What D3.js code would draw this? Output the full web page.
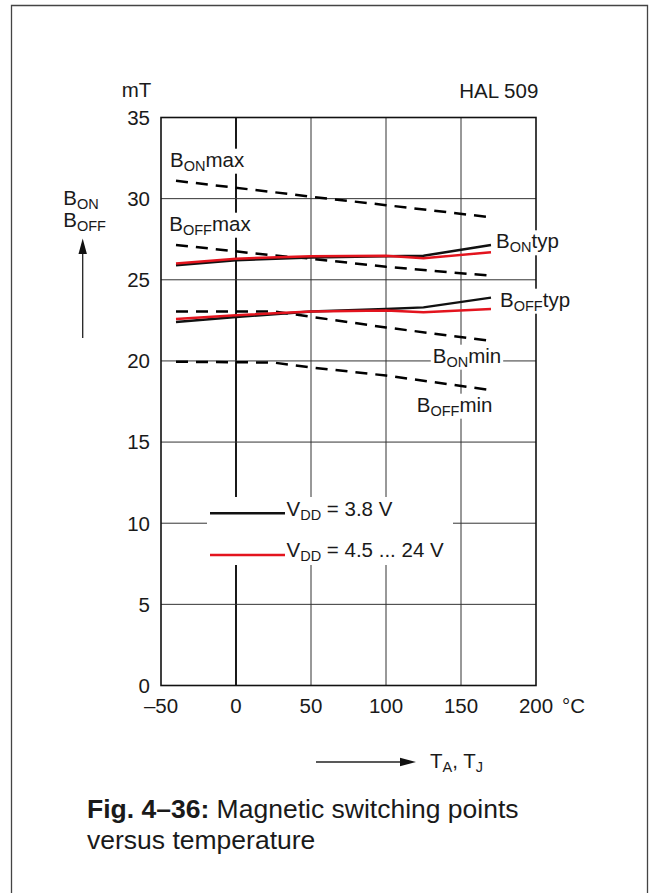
<!DOCTYPE html>
<html><head><meta charset="utf-8">
<script src="https://cdn.jsdelivr.net/npm/d3@7"></script>
<style>
html,body{margin:0;padding:0;background:#fff;}
svg{display:block;}
text{font-family:"Liberation Sans",Arial,Helvetica,sans-serif;fill:#1a1a1a;}
</style></head>
<body>
<svg id="c" width="653" height="893"></svg>
<script>
// ---- data ----
const xTicks = [-50, 0, 50, 100, 150, 200];
const yTicks = [0, 5, 10, 15, 20, 25, 30, 35];
const tempsTyp = [-40, 0, 50, 100, 125, 170];
const bonTyp38 = [25.9, 26.2, 26.38, 26.45, 26.48, 27.15];
const bonTyp45 = [26.0, 26.3, 26.45, 26.48, 26.32, 26.7];
const boffTyp38 = [22.4, 22.7, 23.05, 23.2, 23.3, 23.9];
const boffTyp45 = [22.58, 22.82, 23.05, 23.1, 23.0, 23.2];
const tempsLim = [-40, 25, 50, 100, 170];
const bonMax = [31.1, 30.4, 30.12, 29.6, 28.85];
const boffMax = [27.15, 26.5, 26.3, 25.8, 25.25];
const bonMin = [23.05, 23.05, 22.72, 22.06, 21.24];
const boffMin = [19.95, 19.9, 19.6, 19.1, 18.2];
const legendLabels = [["V", "DD", " = 3.8 V"], ["V", "DD", " = 4.5 ... 24 V"]];
const legendColors = ["#111111", "#e3141e"];

// ---- layout ----
const svg = d3.select("#c");
const x = d3.scaleLinear().domain([-50, 200]).range([161, 536]);
const y = d3.scaleLinear().domain([0, 35]).range([685.5, 117.5]);
const FS = 20.5, SUB = 14.5;

// outer frame
svg.append("path").attr("d", "M11.5,900 V5.5 H647.5 V900")
  .attr("fill", "none").attr("stroke", "#444").attr("stroke-width", 1.3);

// grid
const g = svg.append("g");
g.selectAll(".vg").data(xTicks.filter(d => d > -50 && d < 200)).join("line")
  .attr("x1", d => x(d)).attr("x2", d => x(d)).attr("y1", y(0)).attr("y2", y(35))
  .attr("stroke", d => d === 0 ? "#000" : "#333").attr("stroke-width", d => d === 0 ? 1.8 : 1);
g.selectAll(".hg").data(yTicks.filter(d => d > 0 && d < 35)).join("line")
  .attr("x1", x(-50)).attr("x2", x(200)).attr("y1", d => y(d)).attr("y2", d => y(d))
  .attr("stroke", "#333").attr("stroke-width", 1);
g.append("rect").attr("x", x(-50)).attr("y", y(35)).attr("width", x(200) - x(-50)).attr("height", y(0) - y(35))
  .attr("fill", "none").attr("stroke", "#111").attr("stroke-width", 1.6);

// tick labels
svg.selectAll(".yl").data(yTicks).join("text")
  .attr("x", 150).attr("y", d => y(d)).attr("dy", "0.36em").attr("text-anchor", "end")
  .attr("font-size", FS).text(d => d);
svg.selectAll(".xl").data(xTicks).join("text")
  .attr("x", d => x(d)).attr("y", 713).attr("text-anchor", "middle")
  .attr("font-size", FS).text(d => d < 0 ? "\u2013" + Math.abs(d) : d);
svg.append("text").attr("x", 562).attr("y", 713).attr("font-size", FS).text("\u00b0C");
svg.append("text").attr("x", 121.7).attr("y", 97).attr("font-size", FS).text("mT");
svg.append("text").attr("x", 459.3).attr("y", 98.3).attr("font-size", FS).text("HAL 509");

// text with subscript helper
function subText(parent, px, py, main, sub, rest, bg) {
  const grp = parent.append("g");
  const r = bg ? grp.append("rect").attr("fill", "#fff") : null;
  const t = grp.append("text").attr("x", px).attr("y", py).attr("font-size", FS);
  t.append("tspan").text(main);
  t.append("tspan").attr("font-size", SUB).attr("dy", 4).text(sub);
  if (rest) t.append("tspan").attr("dy", -4).text(rest);
  if (r) {
    const b = t.node().getBBox();
    r.attr("x", b.x - 2).attr("y", b.y + 1).attr("width", b.width + 4).attr("height", b.height - 1);
  }
  return grp;
}

// y-axis label
subText(svg, 63.3, 205, "B", "ON", "", false);
subText(svg, 63.3, 226.7, "B", "OFF", "", false);
svg.append("line").attr("x1", 82.7).attr("x2", 82.7).attr("y1", 338).attr("y2", 252)
  .attr("stroke", "#222").attr("stroke-width", 1.3);
svg.append("path").attr("d", "M82.7,238.5 L78.5,254 L86.9,254 Z").attr("fill", "#111");

// curve labels
subText(svg, 170, 166.7, "B", "ON", "max", true);
subText(svg, 169.3, 230.7, "B", "OFF", "max", true);
subText(svg, 496, 248.3, "B", "ON", "typ", true);
subText(svg, 500, 306.7, "B", "OFF", "typ", true);
subText(svg, 432.7, 362.7, "B", "ON", "min", true);
subText(svg, 416.7, 411.7, "B", "OFF", "min", true);

// legend
const lg = svg.append("g");
lg.append("rect").attr("x", 207).attr("y", 497).attr("width", 246).attr("height", 68).attr("fill", "#fff");
const legY = [513.3, 555];
const legTY = [516, 557];
legendLabels.forEach((lab, i) => {
  lg.append("line").attr("x1", 210).attr("x2", 285).attr("y1", legY[i]).attr("y2", legY[i])
    .attr("stroke", legendColors[i]).attr("stroke-width", 2.4);
  subText(lg, 286.5, legTY[i], lab[0], lab[1], lab[2], false);
});

// data lines
const line = d3.line().x(d => x(d[0])).y(d => y(d[1]));
function draw(ts, vs, color, dashed) {
  svg.append("path").datum(ts.map((t, i) => [t, vs[i]])).attr("d", line)
    .attr("fill", "none").attr("stroke", color).attr("stroke-width", 2.5)
    .attr("stroke-dasharray", dashed ? "12,8" : null);
}
draw(tempsLim, bonMax, "#000", true);
draw(tempsLim, boffMax, "#000", true);
draw(tempsLim, bonMin, "#000", true);
draw(tempsLim, boffMin, "#000", true);
draw(tempsTyp, bonTyp38, legendColors[0], false);
draw(tempsTyp, boffTyp38, legendColors[0], false);
draw(tempsTyp, bonTyp45, legendColors[1], false);
draw(tempsTyp, boffTyp45, legendColors[1], false);

// x-axis arrow
svg.append("line").attr("x1", 316).attr("x2", 402).attr("y1", 762).attr("y2", 762)
  .attr("stroke", "#222").attr("stroke-width", 1.3);
svg.append("path").attr("d", "M416,762 L400,757.8 L400,766.2 Z").attr("fill", "#111");
const tl = svg.append("text").attr("x", 430).attr("y", 768).attr("font-size", FS);
tl.append("tspan").text("T");
tl.append("tspan").attr("font-size", SUB).attr("dy", 4).text("A");
tl.append("tspan").attr("dy", -4).text(", T");
tl.append("tspan").attr("font-size", SUB).attr("dy", 4).text("J");

// caption
const CAP = 26.5;
const cap = svg.append("text").attr("x", 87).attr("y", 818).attr("font-size", CAP);
cap.append("tspan").attr("font-weight", "bold").text("Fig. 4\u201336:");
cap.append("tspan").text(" Magnetic switching points");
svg.append("text").attr("x", 87).attr("y", 849).attr("font-size", CAP).text("versus temperature");
</script>
</body></html>
